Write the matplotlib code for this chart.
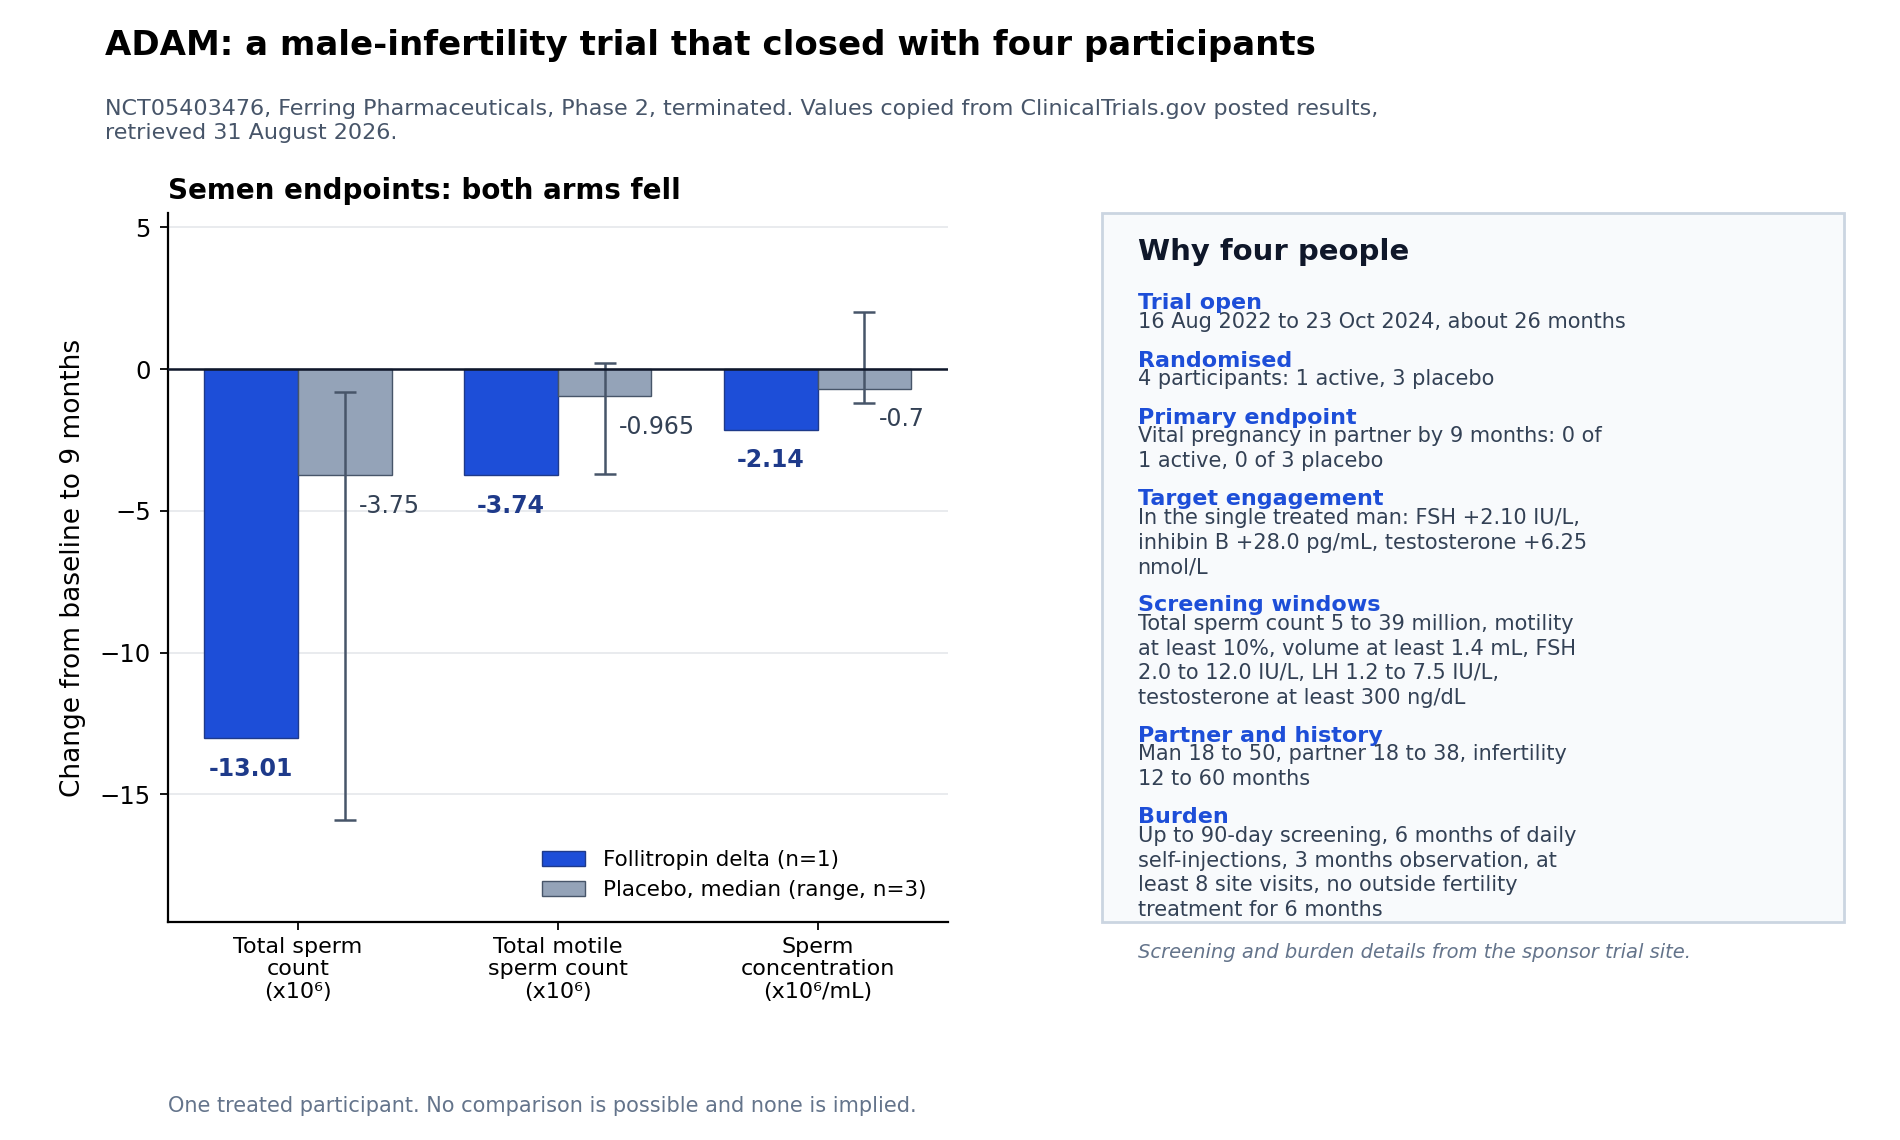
import matplotlib.pyplot as plt
import matplotlib.patches as patches
import numpy as np

# ===== data =====
endpoints = ["Total sperm\ncount\n(x10⁶)", "Total motile\nsperm count\n(x10⁶)", "Sperm\nconcentration\n(x10⁶/mL)"]
active = [-13.01, -3.74, -2.14]
placebo_median = [-3.75, -0.965, -0.7]
placebo_min = [-15.9, -3.7, -1.2]
placebo_max = [-0.8, 0.2, 2.0]
active_labels = ["-13.01", "-3.74", "-2.14"]
placebo_labels = ["-3.75", "-0.965", "-0.7"]

panel_heads = ["Trial open", "Randomised", "Primary endpoint", "Target engagement",
               "Screening windows", "Partner and history", "Burden"]
panel_bodies = [
    "16 Aug 2022 to 23 Oct 2024, about 26 months",
    "4 participants: 1 active, 3 placebo",
    "Vital pregnancy in partner by 9 months: 0 of\n1 active, 0 of 3 placebo",
    "In the single treated man: FSH +2.10 IU/L,\ninhibin B +28.0 pg/mL, testosterone +6.25\nnmol/L",
    "Total sperm count 5 to 39 million, motility\nat least 10%, volume at least 1.4 mL, FSH\n2.0 to 12.0 IU/L, LH 1.2 to 7.5 IU/L,\ntestosterone at least 300 ng/dL",
    "Man 18 to 50, partner 18 to 38, infertility\n12 to 60 months",
    "Up to 90-day screening, 6 months of daily\nself-injections, 3 months observation, at\nleast 8 site visits, no outside fertility\ntreatment for 6 months",
]

# ===== colours =====
blue = "#1d4ed8"
blue_edge = "#1e3a8a"
grey = "#94a3b8"
slate = "#475569"

plt.rcParams["font.family"] = ["DejaVu Sans"]

W, H = 1560, 936  # reference measured in these units
fig = plt.figure(figsize=(19, 11.4), dpi=100)

fig.text(86 / W, 1 - 37 / H, "ADAM: a male-infertility trial that closed with four participants",
         fontsize=24.5, fontweight="bold", va="center", ha="left")
fig.text(86 / W, 1 - 81.5 / H,
         "NCT05403476, Ferring Pharmaceuticals, Phase 2, terminated. Values copied from ClinicalTrials.gov posted results,\nretrieved 31 August 2026.",
         fontsize=16, color=slate, va="top", ha="left", linespacing=1.25)

# ===== bar chart =====
ax = fig.add_axes([138 / W, 1 - 757 / H, (778 - 138) / W, (757 - 175) / H])
x = np.arange(len(endpoints))
w = 0.36
ax.bar(x - w / 2, active, w, color=blue, edgecolor=blue_edge, linewidth=1,
       label="Follitropin delta (n=1)", zorder=3)
ax.bar(x + w / 2, placebo_median, w, color=grey, edgecolor=slate, linewidth=1,
       label="Placebo, median (range, n=3)", zorder=3)
yerr = np.array([np.array(placebo_median) - np.array(placebo_min),
                 np.array(placebo_max) - np.array(placebo_median)])
ax.errorbar(x + w / 2, placebo_median, yerr=yerr, fmt="none", ecolor=slate,
            elinewidth=1.8, capsize=8, capthick=1.8, zorder=4)

for i in range(len(endpoints)):
    ax.annotate(active_labels[i], (x[i] - w / 2, active[i]), xytext=(0, -22),
                textcoords="offset points", ha="center", va="center",
                fontsize=17, fontweight="bold", color=blue_edge)
    ax.annotate(placebo_labels[i], (x[i] + 0.235, placebo_median[i]), xytext=(0, -22),
                textcoords="offset points", ha="left", va="center",
                fontsize=17, color="#334155")

ax.axhline(0, color="#0f172a", linewidth=1.8, zorder=5)
ax.set_xlim(-0.5, 2.5)
ax.set_ylim(-19.5, 5.5)
ax.set_yticks([-15, -10, -5, 0, 5])
ax.yaxis.grid(True, color="#e5e7eb", linewidth=1.2, zorder=0)
ax.set_axisbelow(True)
ax.set_xticks(x)
ax.set_xticklabels(endpoints, fontsize=16, linespacing=1.18)
ax.tick_params(axis="y", labelsize=17.5, length=6, width=1.3, pad=6.5)
ax.tick_params(axis="x", length=6, width=1.3, pad=4.5)
ax.set_ylabel("Change from baseline to 9 months", fontsize=19, labelpad=10)
ax.set_title("Semen endpoints: both arms fell", loc="left", fontsize=20,
             fontweight="bold", pad=10)
for s in ["top", "right"]:
    ax.spines[s].set_visible(False)
ax.spines["left"].set_linewidth(1.6)
ax.spines["bottom"].set_linewidth(1.6)
ax.legend(loc="lower right", frameon=False, fontsize=15.5, handlelength=2.0,
          borderaxespad=0.6, labelspacing=0.5)

fig.text(138 / W, 1 - 908 / H, "One treated participant. No comparison is possible and none is implied.",
         fontsize=15, color="#64748b", va="center", ha="left")

# ===== side panel =====
box = patches.Rectangle((905 / W, 1 - 757 / H), (1514 - 905) / W, (757 - 175) / H,
                        transform=fig.transFigure, facecolor="#f8fafc",
                        edgecolor="#cbd5e1", linewidth=2)
fig.patches.append(box)
tx = 934 / W
fig.text(tx, 1 - 207 / H, "Why four people", fontsize=21, fontweight="bold",
         color="#0f172a", va="center", ha="left")
yc = 249
for head, body in zip(panel_heads, panel_bodies):
    n = body.count("\n") + 1
    fig.text(tx, 1 - yc / H, head, fontsize=16, fontweight="bold", color=blue,
             va="center", ha="left")
    fig.text(tx, 1 - (yc + 7) / H, body, fontsize=15, color="#334155",
             va="top", ha="left", linespacing=1.3)
    yc += 27 + 20 * n

fig.text(tx, 1 - 782 / H, "Screening and burden details from the sponsor trial site.",
         fontsize=14, style="italic", color="#64748b", va="center", ha="left")

fig.savefig("out.png", dpi=100)
